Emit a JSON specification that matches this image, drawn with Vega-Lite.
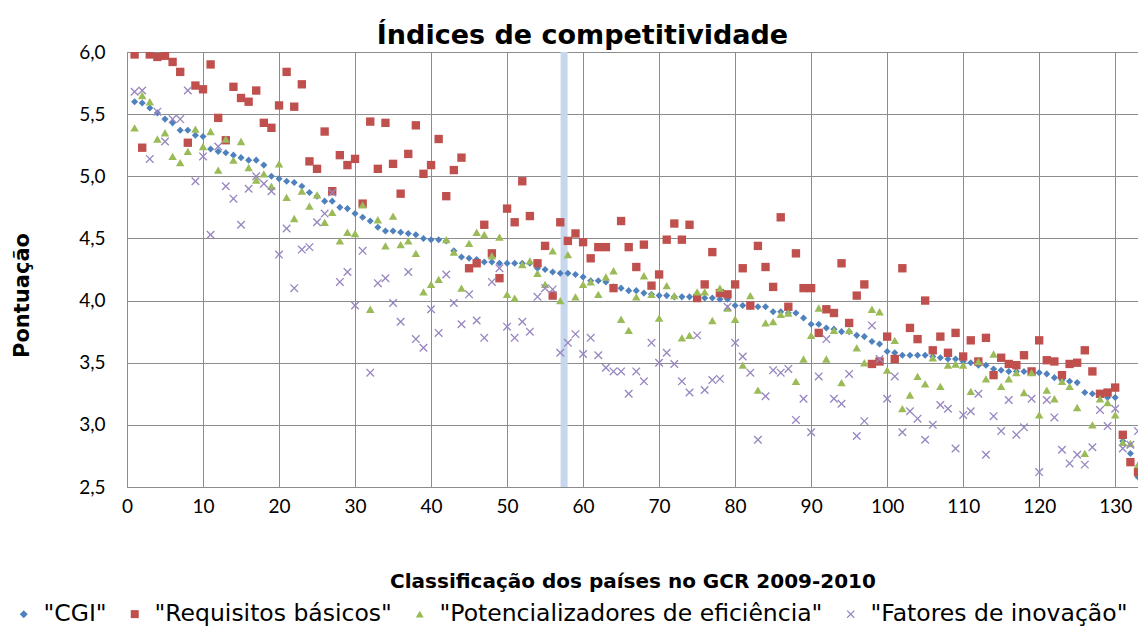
{
  "$schema": "https://vega.github.io/schema/vega-lite/v6.json",
  "width": 1011,
  "height": 435,
  "autosize": {"type": "none"},
  "padding": {"left": 127, "top": 52, "right": 0, "bottom": 139},
  "background": "white",
  "config": {"view": {"stroke": null}, "font": "Lato"},
  "title": {"text": "Índices de competitividade", "font": "DejaVu Sans", "fontSize": 27, "fontWeight": "bold", "color": "#000", "dx": -50, "offset": -7},
  "layer": [
    {
      "data": {"values": [{"b": 57.5}]},
      "mark": {"type": "rule", "strokeWidth": 7, "color": "#c6d7ee"},
      "encoding": {
        "x": {"field": "b", "type": "quantitative", "scale": {"domain": [0, 133], "nice": false, "zero": false},
          "axis": {"values": [0,10,20,30,40,50,60,70,80,90,100,110,120,130], "grid": true, "gridColor": "#8c8c8c", "domainColor": "#8c8c8c", "ticks": false, "labelPadding": 10, "labelFont": "Lato", "labelFontSize": 19, "labelColor": "#000", "labelFlush": false, "title": "Classificação dos países no GCR 2009-2010", "titleFont": "DejaVu Sans", "titleFontSize": 20, "titleFontWeight": "bold", "titleColor": "#000", "titlePadding": 55}}
      }
    },
    {
      "data": {"values": [
        {"r":1,"cgi":5.60,"req":5.98,"pot":5.39,"fat":5.68},
        {"r":2,"cgi":5.59,"req":5.23,"pot":5.65,"fat":5.69},
        {"r":3,"cgi":5.55,"req":5.98,"pot":5.60,"fat":5.14},
        {"r":4,"cgi":5.51,"req":5.96,"pot":5.30,"fat":5.52},
        {"r":5,"cgi":5.46,"req":5.97,"pot":5.35,"fat":5.28},
        {"r":6,"cgi":5.43,"req":5.92,"pot":5.16,"fat":5.46},
        {"r":7,"cgi":5.37,"req":5.84,"pot":5.11,"fat":5.46},
        {"r":8,"cgi":5.37,"req":5.27,"pot":5.20,"fat":5.69},
        {"r":9,"cgi":5.33,"req":5.73,"pot":5.38,"fat":4.96},
        {"r":10,"cgi":5.32,"req":5.70,"pot":5.24,"fat":5.16},
        {"r":11,"cgi":5.22,"req":5.90,"pot":5.36,"fat":4.53},
        {"r":12,"cgi":5.20,"req":5.47,"pot":5.05,"fat":5.24},
        {"r":13,"cgi":5.19,"req":5.29,"pot":5.30,"fat":4.92},
        {"r":14,"cgi":5.17,"req":5.72,"pot":5.13,"fat":4.82},
        {"r":15,"cgi":5.15,"req":5.63,"pot":5.28,"fat":4.61},
        {"r":16,"cgi":5.13,"req":5.60,"pot":5.07,"fat":4.90},
        {"r":17,"cgi":5.13,"req":5.69,"pot":4.97,"fat":5.00},
        {"r":18,"cgi":5.09,"req":5.43,"pot":5.02,"fat":4.94},
        {"r":19,"cgi":5.00,"req":5.39,"pot":4.92,"fat":4.88},
        {"r":20,"cgi":4.98,"req":5.57,"pot":5.10,"fat":4.37},
        {"r":21,"cgi":4.96,"req":5.84,"pot":4.83,"fat":4.58},
        {"r":22,"cgi":4.95,"req":5.56,"pot":4.66,"fat":4.10},
        {"r":23,"cgi":4.92,"req":5.74,"pot":4.88,"fat":4.41},
        {"r":24,"cgi":4.87,"req":5.12,"pot":4.76,"fat":4.43},
        {"r":25,"cgi":4.84,"req":5.06,"pot":4.85,"fat":4.63},
        {"r":26,"cgi":4.80,"req":5.36,"pot":4.63,"fat":4.70},
        {"r":27,"cgi":4.80,"req":4.88,"pot":4.71,"fat":4.87},
        {"r":28,"cgi":4.75,"req":5.17,"pot":4.48,"fat":4.15},
        {"r":29,"cgi":4.74,"req":5.09,"pot":4.55,"fat":4.23},
        {"r":30,"cgi":4.70,"req":5.14,"pot":4.54,"fat":3.96},
        {"r":31,"cgi":4.67,"req":4.78,"pot":4.77,"fat":4.40},
        {"r":32,"cgi":4.64,"req":5.44,"pot":3.93,"fat":3.42},
        {"r":33,"cgi":4.59,"req":5.06,"pot":4.65,"fat":4.14},
        {"r":34,"cgi":4.56,"req":5.43,"pot":4.44,"fat":4.18},
        {"r":35,"cgi":4.56,"req":5.10,"pot":4.68,"fat":3.98},
        {"r":36,"cgi":4.55,"req":4.86,"pot":4.45,"fat":3.83},
        {"r":37,"cgi":4.54,"req":5.18,"pot":4.48,"fat":4.23},
        {"r":38,"cgi":4.53,"req":5.41,"pot":4.38,"fat":3.69},
        {"r":39,"cgi":4.50,"req":5.02,"pot":4.07,"fat":3.62},
        {"r":40,"cgi":4.49,"req":5.09,"pot":4.13,"fat":3.93},
        {"r":41,"cgi":4.49,"req":5.30,"pot":4.17,"fat":3.74},
        {"r":42,"cgi":4.48,"req":4.84,"pot":4.49,"fat":4.21},
        {"r":43,"cgi":4.40,"req":5.05,"pot":4.39,"fat":3.98},
        {"r":44,"cgi":4.35,"req":5.15,"pot":4.10,"fat":3.81},
        {"r":45,"cgi":4.34,"req":4.26,"pot":4.46,"fat":4.05},
        {"r":46,"cgi":4.33,"req":4.30,"pot":4.55,"fat":3.84},
        {"r":47,"cgi":4.31,"req":4.61,"pot":4.53,"fat":3.70},
        {"r":48,"cgi":4.31,"req":4.38,"pot":4.36,"fat":4.15},
        {"r":49,"cgi":4.30,"req":4.18,"pot":4.51,"fat":4.26},
        {"r":50,"cgi":4.30,"req":4.74,"pot":4.05,"fat":3.79},
        {"r":51,"cgi":4.30,"req":4.63,"pot":4.02,"fat":3.70},
        {"r":52,"cgi":4.30,"req":4.96,"pot":4.29,"fat":3.83},
        {"r":53,"cgi":4.30,"req":4.68,"pot":4.32,"fat":3.75},
        {"r":54,"cgi":4.26,"req":4.30,"pot":4.22,"fat":4.03},
        {"r":55,"cgi":4.25,"req":4.44,"pot":4.13,"fat":4.10},
        {"r":56,"cgi":4.23,"req":4.04,"pot":4.40,"fat":4.09},
        {"r":57,"cgi":4.22,"req":4.63,"pot":4.00,"fat":3.58},
        {"r":58,"cgi":4.22,"req":4.48,"pot":4.37,"fat":3.66},
        {"r":59,"cgi":4.21,"req":4.54,"pot":4.03,"fat":3.73},
        {"r":60,"cgi":4.19,"req":4.47,"pot":4.13,"fat":3.57},
        {"r":61,"cgi":4.16,"req":4.34,"pot":4.15,"fat":3.70},
        {"r":62,"cgi":4.16,"req":4.43,"pot":4.05,"fat":3.56},
        {"r":63,"cgi":4.15,"req":4.43,"pot":4.19,"fat":3.46},
        {"r":64,"cgi":4.11,"req":4.10,"pot":4.24,"fat":3.43},
        {"r":65,"cgi":4.10,"req":4.64,"pot":3.85,"fat":3.43},
        {"r":66,"cgi":4.08,"req":4.43,"pot":3.76,"fat":3.25},
        {"r":67,"cgi":4.08,"req":4.27,"pot":4.03,"fat":3.43},
        {"r":68,"cgi":4.06,"req":4.45,"pot":4.20,"fat":3.35},
        {"r":69,"cgi":4.05,"req":4.12,"pot":4.05,"fat":3.66},
        {"r":70,"cgi":4.04,"req":4.21,"pot":3.86,"fat":3.50},
        {"r":71,"cgi":4.04,"req":4.49,"pot":4.12,"fat":3.58},
        {"r":72,"cgi":4.03,"req":4.62,"pot":4.04,"fat":3.49},
        {"r":73,"cgi":4.03,"req":4.49,"pot":3.70,"fat":3.35},
        {"r":74,"cgi":4.03,"req":4.61,"pot":3.72,"fat":3.26},
        {"r":75,"cgi":4.03,"req":4.02,"pot":4.07,"fat":3.72},
        {"r":76,"cgi":4.02,"req":4.13,"pot":4.07,"fat":3.28},
        {"r":77,"cgi":4.02,"req":4.39,"pot":3.84,"fat":3.36},
        {"r":78,"cgi":4.01,"req":4.06,"pot":4.10,"fat":3.37},
        {"r":79,"cgi":4.01,"req":4.05,"pot":3.94,"fat":3.95},
        {"r":80,"cgi":3.96,"req":4.13,"pot":3.85,"fat":3.66},
        {"r":81,"cgi":3.96,"req":4.26,"pot":3.48,"fat":3.55},
        {"r":82,"cgi":3.95,"req":3.96,"pot":4.04,"fat":3.42},
        {"r":83,"cgi":3.95,"req":4.44,"pot":3.28,"fat":2.88},
        {"r":84,"cgi":3.95,"req":4.27,"pot":3.82,"fat":3.23},
        {"r":85,"cgi":3.91,"req":4.11,"pot":3.83,"fat":3.44},
        {"r":86,"cgi":3.91,"req":4.67,"pot":3.89,"fat":3.42},
        {"r":87,"cgi":3.90,"req":3.95,"pot":3.90,"fat":3.45},
        {"r":88,"cgi":3.90,"req":4.38,"pot":3.35,"fat":3.04},
        {"r":89,"cgi":3.86,"req":4.10,"pot":3.53,"fat":3.21},
        {"r":90,"cgi":3.81,"req":4.10,"pot":3.72,"fat":2.94},
        {"r":91,"cgi":3.81,"req":3.74,"pot":3.94,"fat":3.39},
        {"r":92,"cgi":3.78,"req":3.93,"pot":3.53,"fat":3.69},
        {"r":93,"cgi":3.77,"req":3.90,"pot":3.76,"fat":3.21},
        {"r":94,"cgi":3.75,"req":4.30,"pot":3.34,"fat":3.17},
        {"r":95,"cgi":3.75,"req":3.82,"pot":3.76,"fat":3.41},
        {"r":96,"cgi":3.72,"req":4.04,"pot":3.62,"fat":2.91},
        {"r":97,"cgi":3.71,"req":4.13,"pot":3.50,"fat":3.03},
        {"r":98,"cgi":3.67,"req":3.49,"pot":3.93,"fat":3.80},
        {"r":99,"cgi":3.65,"req":3.51,"pot":3.91,"fat":3.53},
        {"r":100,"cgi":3.59,"req":3.71,"pot":3.44,"fat":3.21},
        {"r":101,"cgi":3.58,"req":3.53,"pot":3.68,"fat":3.39},
        {"r":102,"cgi":3.56,"req":4.26,"pot":3.13,"fat":2.94},
        {"r":103,"cgi":3.56,"req":3.78,"pot":3.24,"fat":3.11},
        {"r":104,"cgi":3.56,"req":3.69,"pot":3.39,"fat":3.05},
        {"r":105,"cgi":3.56,"req":4.00,"pot":3.33,"fat":2.88},
        {"r":106,"cgi":3.55,"req":3.60,"pot":3.54,"fat":3.00},
        {"r":107,"cgi":3.54,"req":3.71,"pot":3.31,"fat":3.16},
        {"r":108,"cgi":3.53,"req":3.58,"pot":3.48,"fat":3.13},
        {"r":109,"cgi":3.53,"req":3.74,"pot":3.49,"fat":2.81},
        {"r":110,"cgi":3.51,"req":3.55,"pot":3.48,"fat":3.08},
        {"r":111,"cgi":3.50,"req":3.68,"pot":3.27,"fat":3.11},
        {"r":112,"cgi":3.48,"req":3.51,"pot":3.51,"fat":3.25},
        {"r":113,"cgi":3.48,"req":3.70,"pot":3.37,"fat":2.76},
        {"r":114,"cgi":3.45,"req":3.40,"pot":3.57,"fat":3.07},
        {"r":115,"cgi":3.44,"req":3.54,"pot":3.31,"fat":2.95},
        {"r":116,"cgi":3.43,"req":3.49,"pot":3.37,"fat":3.20},
        {"r":117,"cgi":3.43,"req":3.48,"pot":3.42,"fat":2.92},
        {"r":118,"cgi":3.43,"req":3.56,"pot":3.26,"fat":2.98},
        {"r":119,"cgi":3.42,"req":3.43,"pot":3.42,"fat":3.21},
        {"r":120,"cgi":3.42,"req":3.68,"pot":3.08,"fat":2.62},
        {"r":121,"cgi":3.41,"req":3.52,"pot":3.28,"fat":3.20},
        {"r":122,"cgi":3.38,"req":3.51,"pot":3.21,"fat":3.06},
        {"r":123,"cgi":3.36,"req":3.40,"pot":3.35,"fat":2.80},
        {"r":124,"cgi":3.35,"req":3.49,"pot":3.31,"fat":2.69},
        {"r":125,"cgi":3.34,"req":3.50,"pot":3.14,"fat":2.76},
        {"r":126,"cgi":3.26,"req":3.60,"pot":2.77,"fat":2.68},
        {"r":127,"cgi":3.25,"req":3.43,"pot":3.00,"fat":2.82},
        {"r":128,"cgi":3.24,"req":3.25,"pot":3.21,"fat":3.12},
        {"r":129,"cgi":3.22,"req":3.26,"pot":3.18,"fat":2.99},
        {"r":130,"cgi":3.22,"req":3.30,"pot":3.08,"fat":3.13},
        {"r":131,"cgi":2.87,"req":2.92,"pot":2.86,"fat":2.81},
        {"r":132,"cgi":2.77,"req":2.70,"pot":2.85,"fat":2.84},
        {"r":133,"cgi":2.58,"req":2.62,"pot":2.68,"fat":2.95}
      ]},
      "transform": [{"fold": ["cgi", "req", "pot", "fat"], "as": ["k", "v"]}],
      "encoding": {
        "x": {"field": "r", "type": "quantitative", "scale": {"domain": [0, 133], "nice": false, "zero": false},
          "axis": {"values": [0,10,20,30,40,50,60,70,80,90,100,110,120,130], "grid": true, "gridColor": "#8c8c8c", "domainColor": "#8c8c8c", "ticks": false, "labelPadding": 10, "labelFont": "Lato", "labelFontSize": 19, "labelColor": "#000", "labelFlush": false, "title": "Classificação dos países no GCR 2009-2010", "titleFont": "DejaVu Sans", "titleFontSize": 20, "titleFontWeight": "bold", "titleColor": "#000", "titlePadding": 55}},
        "y": {"field": "v", "type": "quantitative", "scale": {"domain": [2.5, 6.0], "nice": false, "zero": false},
          "axis": {"values": [2.5,3.0,3.5,4.0,4.5,5.0,5.5,6.0], "labelExpr": "replace(format(datum.value, '.1f'), '.', ',')", "grid": true, "gridColor": "#8c8c8c", "domainColor": "#8c8c8c", "ticks": false, "labelPadding": 22, "labelFont": "Lato", "labelFontSize": 19, "labelColor": "#000", "title": "Pontuação", "titleFont": "DejaVu Sans", "titleFontSize": 21, "titleFontWeight": "bold", "titleColor": "#000", "titleX": -105, "titleY": 243, "titleAlign": "center", "titleBaseline": "middle", "titleAngle": 270}},
        "color": {"field": "k", "type": "nominal",
          "scale": {"domain": ["cgi", "req", "pot", "fat"], "range": ["#4f81bd", "#c0504d", "#9bbb59", "#9886c0"]},
          "legend": {"title": null, "orient": "none", "direction": "horizontal", "legendX": -115, "legendY": 550, "labelFont": "DejaVu Sans", "labelFontSize": 23.5, "labelColor": "#000", "symbolSize": 64, "labelOffset": 8, "columnPadding": 16, "labelLimit": 600,
            "labelExpr": "datum.label == 'cgi' ? '\"CGI\"   ' : datum.label == 'req' ? '\"Requisitos básicos\" ' : datum.label == 'pot' ? '\"Potencializadores de eficiência\"' : '\"Fatores de inovação\"'"}},
        "shape": {"field": "k", "type": "nominal",
          "scale": {"domain": ["cgi", "req", "pot", "fat"], "range": ["diamond", "square", "triangle-up", "M-1,-0.78L-0.78,-1L1,0.78L0.78,1ZM0.78,-1L1,-0.78L-0.78,1L-1,0.78Z"]},
          "legend": {"title": null, "orient": "none", "direction": "horizontal", "legendX": -115, "legendY": 550, "labelFont": "DejaVu Sans", "labelFontSize": 23.5, "labelColor": "#000", "symbolSize": 64, "labelOffset": 8, "columnPadding": 16, "labelLimit": 600,
            "labelExpr": "datum.label == 'cgi' ? '\"CGI\"   ' : datum.label == 'req' ? '\"Requisitos básicos\" ' : datum.label == 'pot' ? '\"Potencializadores de eficiência\"' : '\"Fatores de inovação\"'"}}
      },
      "layer": [
        {"transform": [{"filter": "datum.k === 'cgi'"}], "mark": {"type": "point", "filled": true, "opacity": 1, "size": 50, "clip": true}},
        {"transform": [{"filter": "datum.k === 'req'"}], "mark": {"type": "point", "filled": true, "opacity": 1, "size": 70, "clip": true}},
        {"transform": [{"filter": "datum.k === 'pot'"}], "mark": {"type": "point", "filled": true, "opacity": 1, "size": 72, "clip": true}},
        {"transform": [{"filter": "datum.k === 'fat'"}], "mark": {"type": "point", "filled": true, "opacity": 1, "size": 72, "clip": true}}
      ]
    }
  ]
}
